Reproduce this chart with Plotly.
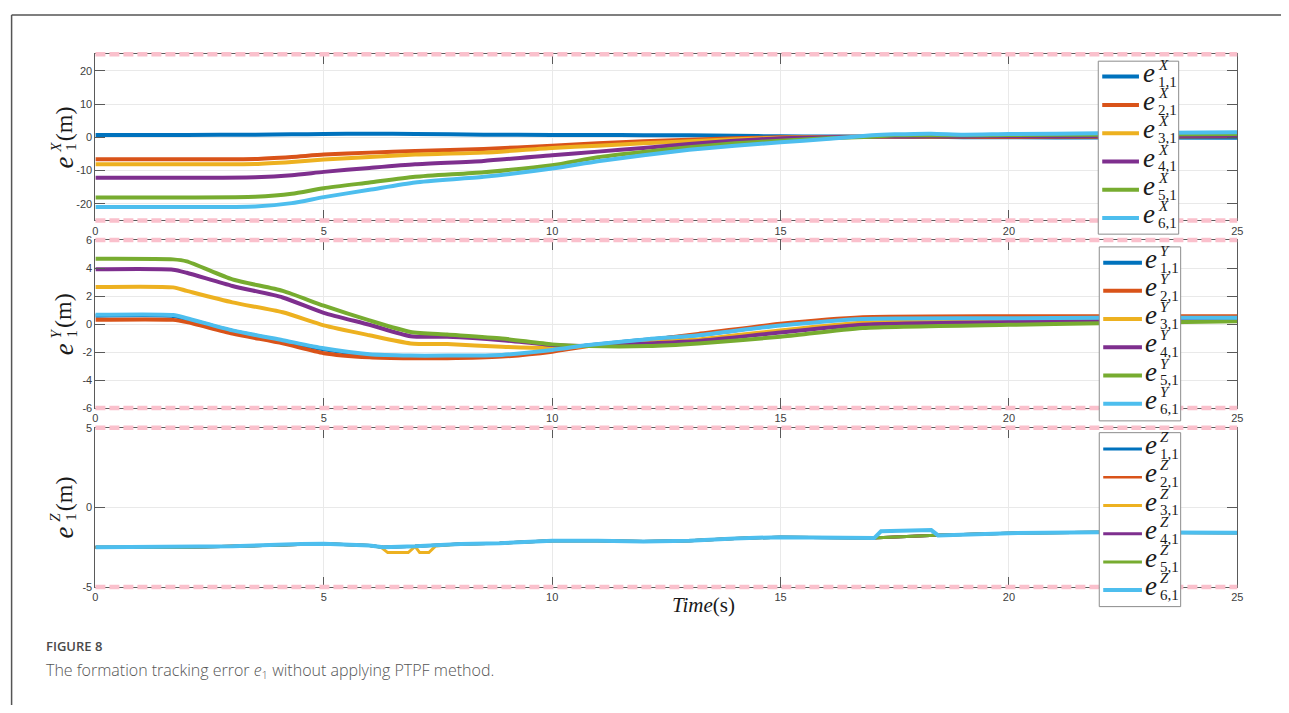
import plotly.graph_objects as go

# Page is 1289x713; the browser body keeps its default 8px margin,
# so the figure itself is 16px smaller and every reference pixel is shifted by 8.
PAGE_W, PAGE_H = 1289, 713
OFF = 8
FW, FH = PAGE_W - 2 * OFF, PAGE_H - 2 * OFF

# ---------------- data ----------------
series_names = ["1,1", "2,1", "3,1", "4,1", "5,1", "6,1"]
colors = ["#0072BD", "#D95319", "#EDB120", "#7E2F8E", "#77AC30", "#4DBEEE"]
x_ticks = [0, 5, 10, 15, 20, 25]
t_range = [0, 25]

# Panel X
t_x = [0, 2, 3.5, 4.3, 5, 6, 7, 8.5, 10, 11, 12, 13, 14, 15, 16, 17, 17.5, 18.3, 19, 20, 22, 25]
ex1 = [0.7, 0.7, 0.8, 0.9, 1.0, 1.1, 1.0, 0.8, 0.7, 0.7, 0.65, 0.6, 0.45, 0.3, 0.25, 0.2, 0.15, 0.1, 0.05, 0.0, -0.05, -0.1]
ex2 = [-6.6, -6.6, -6.5, -5.9, -5.2, -4.6, -4.1, -3.5, -2.5, -1.8, -1.2, -0.7, -0.3, 0.0, 0.1, 0.2, 0.2, 0.15, 0.15, 0.1, 0.2, 0.3]
ex3 = [-8.1, -8.1, -8.0, -7.4, -6.7, -5.9, -5.2, -4.6, -3.2, -2.5, -1.8, -1.2, -0.6, -0.1, 0.0, 0.2, 0.3, 0.35, 0.4, 0.4, 0.5, 0.7]
ex4 = [-12.2, -12.2, -12.0, -11.4, -10.4, -9.2, -8.1, -7.1, -5.4, -4.3, -3.2, -2.0, -1.0, -0.3, 0.0, 0.2, 0.25, 0.3, 0.3, 0.3, 0.4, 0.5]
ex5 = [-18.1, -18.1, -17.9, -17.0, -15.3, -13.6, -11.9, -10.5, -8.4, -6.0, -4.4, -3.0, -1.8, -1.0, -0.3, 0.2, 0.6, 0.6, 0.6, 0.7, 0.8, 1.0]
ex6 = [-21.0, -21.0, -20.8, -19.8, -18.0, -15.8, -13.6, -11.9, -9.4, -7.2, -5.4, -3.75, -2.5, -1.5, -0.5, 0.6, 0.9, 1.1, 0.8, 1.0, 1.2, 1.5]

# Panel Y
t_y = [0, 1.7, 2.0, 3.0, 4.1, 5, 6, 6.9, 7.7, 8.9, 10, 10.8, 12.1, 13.2, 15, 16.8, 20, 22, 25]
ey1 = [0.6, 0.58, 0.36, -0.5, -1.2, -1.8, -2.2, -2.3, -2.3, -2.25, -1.9, -1.52, -1.1, -0.78, -0.05, 0.42, 0.48, 0.5, 0.5]
ey2 = [0.31, 0.3, 0.14, -0.68, -1.38, -2.08, -2.37, -2.44, -2.44, -2.32, -1.97, -1.57, -1.15, -0.7, 0.02, 0.49, 0.56, 0.56, 0.55]
ey3 = [2.65, 2.62, 2.37, 1.55, 0.84, -0.09, -0.8, -1.38, -1.43, -1.62, -1.7, -1.57, -1.3, -1.1, -0.45, 0.09, 0.26, 0.3, 0.4]
ey4 = [3.91, 3.88, 3.66, 2.72, 1.9, 0.8, -0.05, -0.87, -0.91, -1.15, -1.5, -1.57, -1.38, -1.2, -0.6, -0.05, 0.14, 0.2, 0.3]
ey5 = [4.66, 4.62, 4.48, 3.19, 2.37, 1.31, 0.26, -0.56, -0.75, -1.03, -1.45, -1.57, -1.57, -1.38, -0.91, -0.28, -0.05, 0.05, 0.2]
ey6 = [0.66, 0.64, 0.42, -0.45, -1.15, -1.73, -2.16, -2.25, -2.25, -2.2, -1.85, -1.5, -1.08, -0.8, -0.1, 0.37, 0.42, 0.45, 0.45]

# Panel Z
t_z = [0, 2, 3, 4.5, 5, 6, 6.3, 7, 8, 8.85, 10, 11, 12, 13, 14, 15, 16, 17, 18.4, 20, 22, 25]
ez_base = [-2.5, -2.5, -2.45, -2.3, -2.28, -2.4, -2.5, -2.45, -2.3, -2.25, -2.1, -2.1, -2.15, -2.1, -1.95, -1.87, -1.9, -1.93, -1.75, -1.62, -1.56, -1.6]
t_z3 = [0, 2, 3, 4.5, 5, 6, 6.25, 6.4, 6.85, 7.0, 7.1, 7.3, 7.45, 8, 8.85, 10, 11, 12, 13, 14, 15, 16, 17, 18.4, 20, 22, 25]
ez3 = [-2.5, -2.5, -2.45, -2.3, -2.28, -2.4, -2.5, -2.84, -2.84, -2.45, -2.84, -2.84, -2.42, -2.3, -2.25, -2.1, -2.1, -2.15, -2.1, -1.95, -1.87, -1.9, -1.93, -1.75, -1.62, -1.56, -1.6]
t_z6 = [0, 2, 3, 4.5, 5, 6, 6.3, 7, 8, 8.85, 10, 11, 12, 13, 14, 15, 16, 17.05, 17.2, 18.3, 18.45, 20, 22, 25]
ez6 = [-2.5, -2.5, -2.45, -2.3, -2.28, -2.4, -2.5, -2.45, -2.3, -2.25, -2.1, -2.1, -2.15, -2.1, -1.95, -1.87, -1.9, -1.93, -1.5, -1.43, -1.76, -1.62, -1.56, -1.6]

bounds_x = [-25, 25]
bounds_y = [-6, 6]
bounds_z = [-5, 5]
yticks_x = [-20, -10, 0, 10, 20]
yticks_y = [-6, -4, -2, 0, 2, 4, 6]
yticks_z = [-5, 0, 5]

# ---------------- layout helpers ----------------
def px(x):
    return (x - OFF) / FW

def py(y):
    return 1 - (y - OFF) / FH

panels = [  # (top px, bottom px) in page pixels
    (49, 218),
    (238, 409),
    (429, 591),
]
XL, XR = 93, 1243

fig = go.Figure()

panel_data = [
    ([t_x] * 6, [ex1, ex2, ex3, ex4, ex5, ex6], [4, 4, 4, 4, 4, 4], "spline"),
    ([t_y] * 6, [ey1, ey2, ey3, ey4, ey5, ey6], [4, 4, 4, 4, 4, 4], "spline"),
    ([t_z, t_z, t_z3, t_z, t_z, t_z6], [ez_base, ez_base, ez3, ez_base, ez_base, ez6], [3, 2.5, 3, 3, 3, 4], "linear"),
]
comps = ["X", "Y", "Z"]

for i, (ts, ys, widths, shape) in enumerate(panel_data):
    xa = "x" if i == 0 else f"x{i+1}"
    ya = "y" if i == 0 else f"y{i+1}"
    for k in range(6):
        line = dict(color=colors[k], width=widths[k], shape=shape)
        if shape == "spline":
            line["smoothing"] = 0.6
        fig.add_trace(go.Scatter(
            x=ts[k], y=ys[k], mode="lines", xaxis=xa, yaxis=ya,
            line=line, name=f"e{comps[i]}{series_names[k]}",
            showlegend=False, hoverinfo="skip",
        ))

tickfont = dict(family="Liberation Sans, Arial", size=11, color="#404040")
axis_common = dict(
    showline=True, linecolor="#5a5a5a", linewidth=1, mirror="ticks",
    ticks="inside", ticklen=10, tickcolor="#5a5a5a", tickwidth=1,
    showgrid=True, gridcolor="#e9e9e9", gridwidth=1, zeroline=False,
    tickfont=tickfont,
)

ytick_sets = [yticks_x, yticks_y, yticks_z]
bound_sets = [bounds_x, bounds_y, bounds_z]

x_dom = [px(XL), px(XR)]
y_doms = [[py(bot), py(top)] for (top, bot) in panels]

layout_axes = {}
for i in range(3):
    xname = "xaxis" if i == 0 else f"xaxis{i+1}"
    yname = "yaxis" if i == 0 else f"yaxis{i+1}"
    xa = "x" if i == 0 else f"x{i+1}"
    ya = "y" if i == 0 else f"y{i+1}"
    layout_axes[xname] = dict(
        axis_common, domain=x_dom, range=t_range, anchor=ya,
        tickvals=x_ticks, ticktext=[str(v) for v in x_ticks],
    )
    yt = ytick_sets[i]
    layout_axes[yname] = dict(
        axis_common, domain=y_doms[i], range=bound_sets[i], anchor=xa,
        tickvals=yt, ticktext=[str(v) for v in yt],
    )
fig.update_layout(**layout_axes)

shapes = []
annotations = []

def to_paper_x(v):
    return x_dom[0] + (v - t_range[0]) / (t_range[1] - t_range[0]) * (x_dom[1] - x_dom[0])

def to_paper_y(v, i):
    r0, r1 = bound_sets[i]
    d0, d1 = y_doms[i]
    return d0 + (v - r0) / (r1 - r0) * (d1 - d0)

# pink dashed bound lines (paper refs so they are not clipped by the plot area)
for i in range(3):
    for b in bound_sets[i]:
        yy = to_paper_y(b, i)
        shapes.append(dict(
            type="line", xref="paper", yref="paper",
            x0=to_paper_x(t_range[0]), x1=to_paper_x(t_range[1]), y0=yy, y1=yy,
            line=dict(color="#FAC0CC", width=4.5, dash="10px,4px"), layer="above",
        ))

# outer frame (top and left edges of the figure card)
shapes.append(dict(type="line", xref="paper", yref="paper", x0=px(8.6), x1=1.05, y0=py(9), y1=py(9),
                   line=dict(color="#555555", width=1.5)))
shapes.append(dict(type="line", xref="paper", yref="paper", x0=px(8.6), x1=px(8.6), y0=py(9), y1=-0.05,
                   line=dict(color="#555555", width=1.5)))

serif = "Liberation Serif, Times New Roman, serif"
ink = "#1a1a1a"

# custom legends with stacked super/subscripts
legend_specs = [
    # box left, top, right, bottom, first entry y, step, sample x0, x1, text x
    (1103, 56, 1184, 232, 71.7, 28.8, 1107, 1144, 1146),
    (1104, 245, 1186, 422, 261.0, 28.7, 1108, 1147, 1148),
    (1104, 434, 1186, 611, 450.7, 28.7, 1108, 1147, 1148),
]
for i, (bl, bt, br, bb, y0, step, sx0, sx1, tx) in enumerate(legend_specs):
    shapes.append(dict(type="rect", xref="paper", yref="paper",
                       x0=px(bl), x1=px(br), y0=py(bb), y1=py(bt),
                       line=dict(color="#8c8c8c", width=1), fillcolor="white", layer="above"))
    widths = panel_data[i][2]
    for k in range(6):
        yy = y0 + k * step
        shapes.append(dict(type="line", xref="paper", yref="paper",
                           x0=px(sx0), x1=px(sx1), y0=py(yy), y1=py(yy),
                           line=dict(color=colors[k], width=widths[k]), layer="above"))
        annotations.append(dict(xref="paper", yref="paper", x=px(tx), y=py(yy - 4),
                                xanchor="left", yanchor="middle", showarrow=False,
                                text="<i>e</i>", font=dict(family=serif, size=27, color=ink)))
        annotations.append(dict(xref="paper", yref="paper", x=px(tx + 15), y=py(yy - 12),
                                xanchor="left", yanchor="middle", showarrow=False,
                                text=f"<i>{comps[i]}</i>", font=dict(family=serif, size=15, color=ink)))
        annotations.append(dict(xref="paper", yref="paper", x=px(tx + 15), y=py(yy + 5),
                                xanchor="left", yanchor="middle", showarrow=False,
                                text=series_names[k], font=dict(family=serif, size=15, color=ink)))

# y axis titles (rotated, stacked scripts)
for i, (top, bot) in enumerate(panels):
    cy = (top + bot) / 2
    annotations.append(dict(xref="paper", yref="paper", x=px(61), y=py(cy - 14), textangle=-90,
                            xanchor="center", yanchor="middle", showarrow=False,
                            text="(m)", font=dict(family=serif, size=24, color=ink)))
    annotations.append(dict(xref="paper", yref="paper", x=px(61), y=py(cy + 26), textangle=-90,
                            xanchor="center", yanchor="middle", showarrow=False,
                            text="<i>e</i>", font=dict(family=serif, size=27, color=ink)))
    annotations.append(dict(xref="paper", yref="paper", x=px(53), y=py(cy + 10), textangle=-90,
                            xanchor="center", yanchor="middle", showarrow=False,
                            text=f"<i>{comps[i]}</i>", font=dict(family=serif, size=15, color=ink)))
    annotations.append(dict(xref="paper", yref="paper", x=px(69), y=py(cy + 10), textangle=-90,
                            xanchor="center", yanchor="middle", showarrow=False,
                            text="1", font=dict(family=serif, size=15, color=ink)))

# x axis title
annotations.append(dict(xref="paper", yref="paper", x=px(705), y=py(609),
                        xanchor="center", yanchor="middle", showarrow=False,
                        text="<i>Time</i>(s)", font=dict(family=serif, size=21, color=ink)))

# caption
annotations.append(dict(xref="paper", yref="paper", x=px(41), y=py(651),
                        xanchor="left", yanchor="middle", showarrow=False,
                        text="FIGURE 8", font=dict(family="Open Sans", size=13, color="#4a4a4a", weight=600)))
annotations.append(dict(xref="paper", yref="paper", x=px(41), y=py(676),
                        xanchor="left", yanchor="middle", showarrow=False,
                        text="The formation tracking error <i>e</i><sub>1</sub> without applying PTPF method.",
                        font=dict(family="Open Sans", size=16, color="#555555", weight=300)))

fig.update_layout(
    width=FW, height=FH,
    margin=dict(l=0, r=0, t=0, b=0),
    paper_bgcolor="white", plot_bgcolor="white",
    shapes=shapes, annotations=annotations,
    showlegend=False,
)

fig.write_html("out.html")
